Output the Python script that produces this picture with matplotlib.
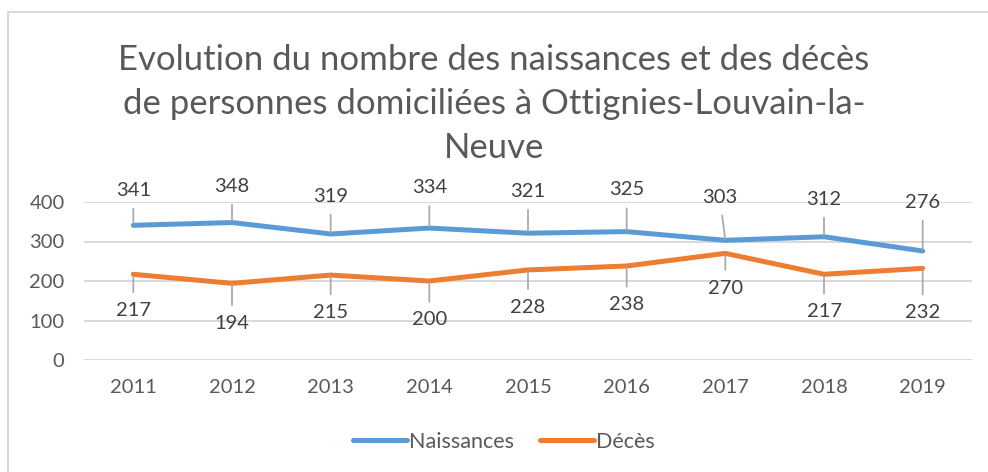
import matplotlib.pyplot as plt
from matplotlib.patches import Rectangle

plt.rcParams['font.family'] = ['Lato', 'DejaVu Sans']

years = ["2011", "2012", "2013", "2014", "2015", "2016", "2017", "2018", "2019"]
naissances = [341, 348, 319, 334, 321, 325, 303, 312, 276]
deces = [217, 194, 215, 200, 228, 238, 270, 217, 232]

# label offsets (in points) above / below each point
off_n = [25, 26, 27, 29, 30, 30, 31, 27, 35]
off_d = [26, 29, 27, 28, 27, 28, 25, 27, 32]
dx_n = [0, 0, 0, 0, 0, 0, -4, 0, 0]

blue = "#5B9BD5"
orange = "#ED7D31"
grey_txt = "#595959"

fig = plt.figure(figsize=(9.88, 4.72), dpi=100)
ax = fig.add_axes([84/988, 1-360/472, (972-84)/988, 158/472])

x = list(range(len(years)))
ax.plot(x, naissances, color=blue, lw=3.6, solid_capstyle='round', label="Naissances", zorder=3)
ax.plot(x, deces, color=orange, lw=3.6, solid_capstyle='round', label="Décès", zorder=3)

for i in x:
    ax.annotate(str(naissances[i]), (i, naissances[i]), xytext=(dx_n[i], off_n[i]),
                textcoords='offset points', ha='center', va='center', fontsize=14.5,
                color="#404040", annotation_clip=False,
                arrowprops=dict(arrowstyle='-', color="#A6A6A6", lw=1.2, shrinkA=5, shrinkB=1))
    ax.annotate(str(deces[i]), (i, deces[i]), xytext=(0, -off_d[i]),
                textcoords='offset points', ha='center', va='center', fontsize=14.5,
                color="#404040", annotation_clip=False,
                arrowprops=dict(arrowstyle='-', color="#A6A6A6", lw=1.2, shrinkA=5, shrinkB=1))

ax.set_xlim(-0.5, 8.5)
ax.set_ylim(0, 400)
ax.set_yticks([0, 100, 200, 300, 400])
ax.set_xticks(x)
ax.set_xticklabels(years)
ax.grid(axis='y', color="#D9D9D9", lw=1.4)
ax.set_axisbelow(True)
for s in ax.spines.values():
    s.set_visible(False)
ax.tick_params(axis='both', length=0, labelsize=14.5, labelcolor=grey_txt)
ax.tick_params(axis='y', pad=14)
ax.tick_params(axis='x', pad=14)

fig.text(0.5, 1-104/472, "Evolution du nombre des naissances et des décès\nde personnes domiciliées à Ottignies-Louvain-la-\nNeuve",
         ha='center', va='center', fontsize=25, color=grey_txt, linespacing=1.45)

fig.legend(loc='center', bbox_to_anchor=(0.51, 1-442/472), ncol=2, frameon=False,
           fontsize=15.5, labelcolor=grey_txt, handlelength=2.5, handletextpad=0.1,
           columnspacing=1.2)

fig.patches.append(Rectangle((8/988, -0.1), 1.2, 1-12/472+0.1, transform=fig.transFigure,
                             fill=False, edgecolor="#D9D9D9", lw=1.5))

fig.savefig("out.png", dpi=100)
